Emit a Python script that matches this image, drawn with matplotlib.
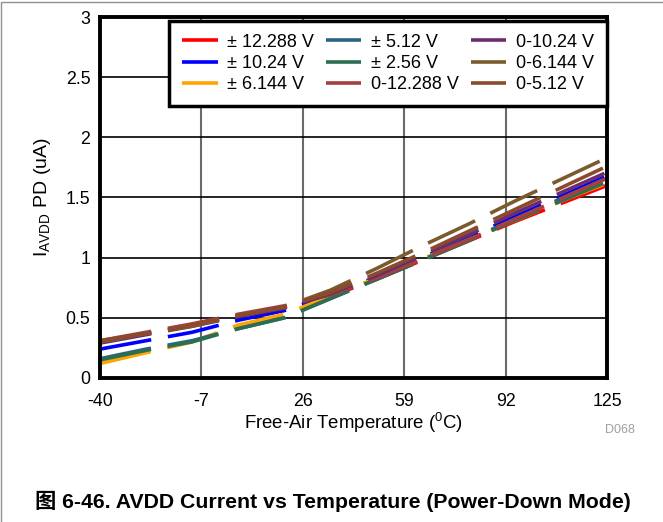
import numpy as np
import matplotlib
matplotlib.use("Agg")
import matplotlib.pyplot as plt
from matplotlib.patches import Rectangle

plt.rcParams['font.family'] = ['Liberation Sans', 'Noto Sans CJK SC', 'DejaVu Sans']
plt.rcParams['lines.scale_dashes'] = False

# temperatures (deg C)
temp = [-40, -25, -10, 5, 20, 35, 50, 65, 80, 95, 110, 125]

# current in uA
bip_12288 = [0.30, 0.37, 0.44, 0.52, 0.59, 0.68, 0.82, 0.98, 1.14, 1.30, 1.45, 1.60]
bip_1024 = [0.24, 0.31, 0.38, 0.48, 0.56, 0.69, 0.84, 1.00, 1.17, 1.34, 1.51, 1.68]
bip_6144 = [0.12, 0.21, 0.30, 0.44, 0.53, 0.68, 0.83, 0.99, 1.15, 1.31, 1.47, 1.62]
bip_512 = [0.16, 0.24, 0.31, 0.41, 0.50, 0.66, 0.82, 0.98, 1.15, 1.32, 1.49, 1.66]
bip_256 = [0.15, 0.23, 0.30, 0.41, 0.50, 0.66, 0.82, 0.98, 1.14, 1.31, 1.47, 1.63]
uni_12288 = [0.31, 0.38, 0.45, 0.53, 0.60, 0.69, 0.83, 0.99, 1.15, 1.32, 1.49, 1.66]
uni_1024 = [0.29, 0.36, 0.43, 0.51, 0.58, 0.70, 0.85, 1.02, 1.19, 1.37, 1.54, 1.71]
uni_6144 = [0.30, 0.37, 0.43, 0.52, 0.59, 0.73, 0.91, 1.10, 1.28, 1.47, 1.65, 1.83]
uni_512 = [0.31, 0.37, 0.44, 0.52, 0.59, 0.71, 0.87, 1.04, 1.22, 1.40, 1.58, 1.76]

labels = ['± 12.288 V', '± 10.24 V', '± 6.144 V', '± 5.12 V', '± 2.56 V',
          '0-12.288 V', '0-10.24 V', '0-6.144 V', '0-5.12 V']
series = [bip_12288, bip_1024, bip_6144, bip_512, bip_256,
          uni_12288, uni_1024, uni_6144, uni_512]
colors = ['#ff0000', '#0000ff', '#ffa500', '#2b6385', '#2b6e50',
          '#a5403f', '#6b2d6e', '#7b5a2e', '#8b4a2b']

xticks = [-40, -7, 26, 59, 92, 125]
yticks = [0, 0.5, 1, 1.5, 2, 2.5, 3]

fig = plt.figure(figsize=(6.63, 5.22), dpi=100)
ax = fig.add_axes([0.1508, 0.2759, 0.9155 - 0.1508, 0.9674 - 0.2759])

for y, c, lab in zip(series, colors, labels):
    ax.plot(temp, y, color=c, lw=2.6, label=lab, dashes=(37.5, 12.2),
            solid_capstyle='butt', dash_capstyle='butt')

ax.set_xlim(-40, 125)
ax.set_ylim(0, 3)
ax.set_xticks(xticks)
ax.set_yticks(yticks)
ax.set_xticklabels([str(t) for t in xticks])
ax.set_yticklabels(['0', '0.5', '1', '1.5', '2', '2.5', '3'])
ax.tick_params(length=0, labelsize=12.8)
ax.tick_params(axis='x', pad=11)
ax.tick_params(axis='y', pad=7)
ax.yaxis.grid(True, color='black', lw=1.2)
ax.xaxis.grid(True, color='#6a6a6a', lw=1.5)
ax.set_axisbelow(True)
for s in ax.spines.values():
    s.set_linewidth(2.8)

ax.set_xlabel(r'Free-Air Temperature ($^{\mathregular{0}}$C)', fontsize=13.4, labelpad=0)
ax.set_ylabel(r'I$_{\mathregular{AVDD}}$ PD (uA)', fontsize=14, labelpad=9)

leg = ax.legend(ncol=3, loc='upper right', bbox_to_anchor=(1.0, 0.99),
                borderaxespad=0, fontsize=13, handlelength=1.95, handletextpad=0.55,
                columnspacing=0.65, labelspacing=0.24, borderpad=0.72,
                fancybox=False, framealpha=1, edgecolor='black')
leg.get_frame().set_linewidth(2.5)
for h in leg.get_lines():
    h.set_linestyle('-')
    h.set_linewidth(2.6)

fig.text(0.935, 0.176, 'D068', color='#a0a0a0', fontsize=9, ha='center', va='center')
fig.text(0.502, 0.04, '图 6-46. AVDD Current vs Temperature (Power-Down Mode)',
         fontsize=15.3, fontweight='bold', ha='center', va='center')

fig.patches.append(Rectangle((0.002, -0.2), 1.2, 1.197, transform=fig.transFigure,
                             fill=False, edgecolor='#909090', lw=1.0))

fig.savefig('out.png', dpi=100)
